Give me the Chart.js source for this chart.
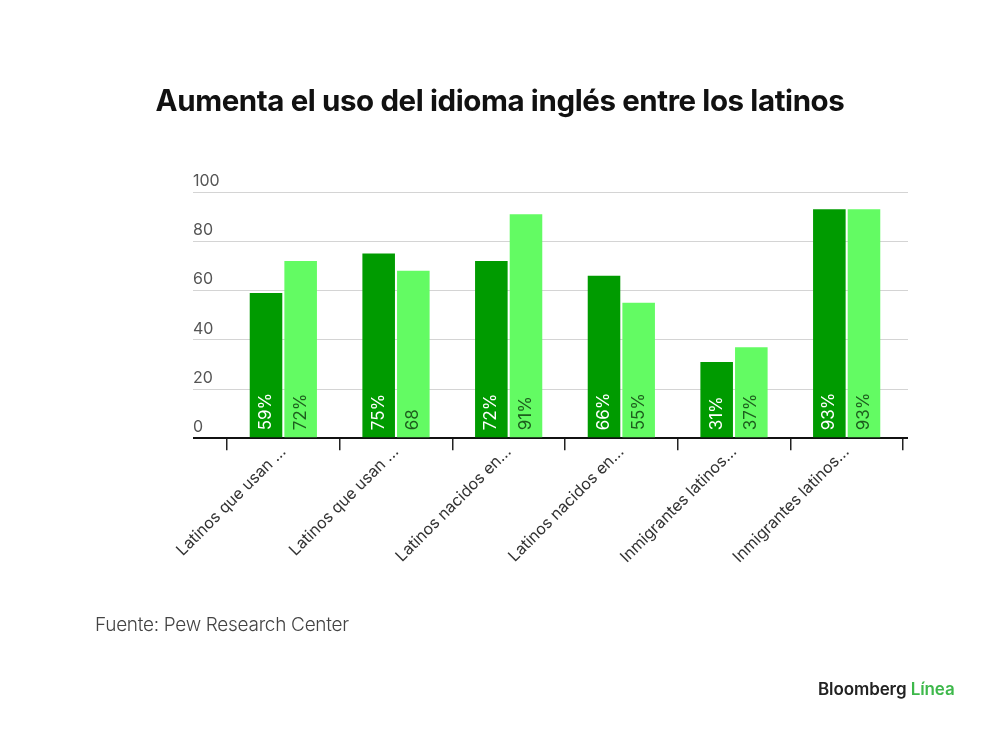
<!DOCTYPE html>
<html>
<head>
<meta charset="utf-8">
<script src="https://cdn.jsdelivr.net/npm/chart.js@4.4.1/dist/chart.umd.min.js"></script>
<style>
  html, body { margin: 0; padding: 0; background: #fff; }
  #wrap { position: relative; width: 1000px; height: 734px; }
  #title { position: absolute; left: 0; width: 1000px; top: 82px; text-align: center;
    font-family: Inter, sans-serif; font-weight: 700; font-size: 29.5px; letter-spacing: -0.4px; color: #111; }
  #source { position: absolute; left: 95px; top: 613px; font-family: Inter, sans-serif; font-weight: 300;
    font-size: 19px; color: #444; letter-spacing: -0.3px; }
  #logo { position: absolute; left: 818px; top: 679px; font-family: Inter, sans-serif; font-weight: 600;
    font-size: 17px; color: #222; letter-spacing: -0.1px; }
  #logo span { color: #3db84a; }
  canvas { position: absolute; left: 0; top: 0; }
</style>
</head>
<body>
<div id="wrap">
  <canvas id="myChart" width="1000" height="734"></canvas>
  <div id="title">Aumenta el uso del idioma inglés entre los latinos</div>
  <div id="source">Fuente: Pew Research Center</div>
  <div id="logo">Bloomberg <span>Línea</span></div>
</div>
<script>
const categories = [
    'Latinos que usan ...',
    'Latinos que usan ...',
    'Latinos nacidos en...',
    'Latinos nacidos en...',
    'Inmigrantes latinos...',
    'Inmigrantes latinos...'
];
const seriesA = [59, 75, 72, 66, 31, 93];
const seriesB = [72, 68, 91, 55, 37, 93];
const labelsA = ['59%', '75%', '72%', '66%', '31%', '93%'];
const labelsB = ['72%', '68', '91%', '55%', '37%', '93%'];
const yTicks = [0, 20, 40, 60, 80, 100];

const darkGreen = '#009b00';
const lightGreen = '#63fb63';
const tickFont = { family: 'Inter, sans-serif', size: 16 };

// grid colour: black for the zero line, light grey for the rest
const gridColor = ctx => ctx.tick && ctx.tick.value === 0 ? '#111' : '#d4d4d4';
const gridWidth = ctx => ctx.tick && ctx.tick.value === 0 ? 2 : 1;
const fixedTicks = scale => { scale.ticks = yTicks.map(v => ({ value: v })); };

// writes the value labels rotated inside each bar, near the bottom
const barLabels = {
    id: 'barLabels',
    afterDatasetsDraw(chart) {
        const ctx = chart.ctx;
        const sets = [labelsA, labelsB];
        const colors = ['#ffffff', '#1d5e1d'];
        ctx.save();
        ctx.font = '17px Inter, sans-serif';
        ctx.textAlign = 'left';
        ctx.textBaseline = 'middle';
        chart.data.datasets.forEach((ds, i) => {
            const meta = chart.getDatasetMeta(i);
            meta.data.forEach((bar, j) => {
                ctx.save();
                ctx.translate(bar.x, bar.base - 7);
                ctx.rotate(-Math.PI / 2);
                ctx.fillStyle = colors[i];
                ctx.fillText(sets[i][j], 0, 0);
                ctx.restore();
            });
        });
        ctx.restore();
    }
};

const chart = new Chart(document.getElementById('myChart'), {
    type: 'bar',
    data: {
        labels: categories,
        datasets: [
            { data: seriesA, backgroundColor: darkGreen },
            { data: seriesB, backgroundColor: lightGreen }
        ]
    },
    options: {
        responsive: false,
        animation: false,
        events: [],
        layout: { padding: { left: 185, right: 92, top: 192, bottom: 153 } },
        categoryPercentage: 0.615,
        barPercentage: 0.94,
        plugins: { legend: { display: false }, tooltip: { enabled: false } },
        scales: {
            x: {
                grid: { offset: true, drawOnChartArea: false, tickLength: 12, color: '#222', lineWidth: 1.5 },
                border: { display: false },
                // empty title only keeps room below the labels so they are not cut off
                title: { display: true, text: ' ', font: { size: 12 }, padding: 4 },
                ticks: {
                    maxRotation: 45, minRotation: 45, padding: -8,
                    color: '#333',
                    font: tickFont
                }
            },
            // grid lines, with tick marks that carry them out to the labels
            y: {
                min: 0, max: 100,
                afterBuildTicks: fixedTicks,
                grid: { color: gridColor, lineWidth: gridWidth, tickLength: 34 },
                border: { display: false },
                ticks: { display: false }
            },
            // the tick labels, sitting above the grid lines
            yLabels: {
                position: 'left',
                weight: 10,
                min: 0, max: 100,
                afterBuildTicks: fixedTicks,
                grid: { display: false },
                border: { display: false },
                ticks: { mirror: true, padding: 0, labelOffset: -11, color: '#555', font: tickFont }
            },
            y2: {
                position: 'right',
                min: 0, max: 100,
                afterBuildTicks: fixedTicks,
                grid: { color: gridColor, lineWidth: gridWidth, tickLength: 5, drawOnChartArea: false },
                border: { display: false },
                ticks: { display: false }
            }
        }
    },
    plugins: [barLabels]
});
</script>
</body>
</html>
